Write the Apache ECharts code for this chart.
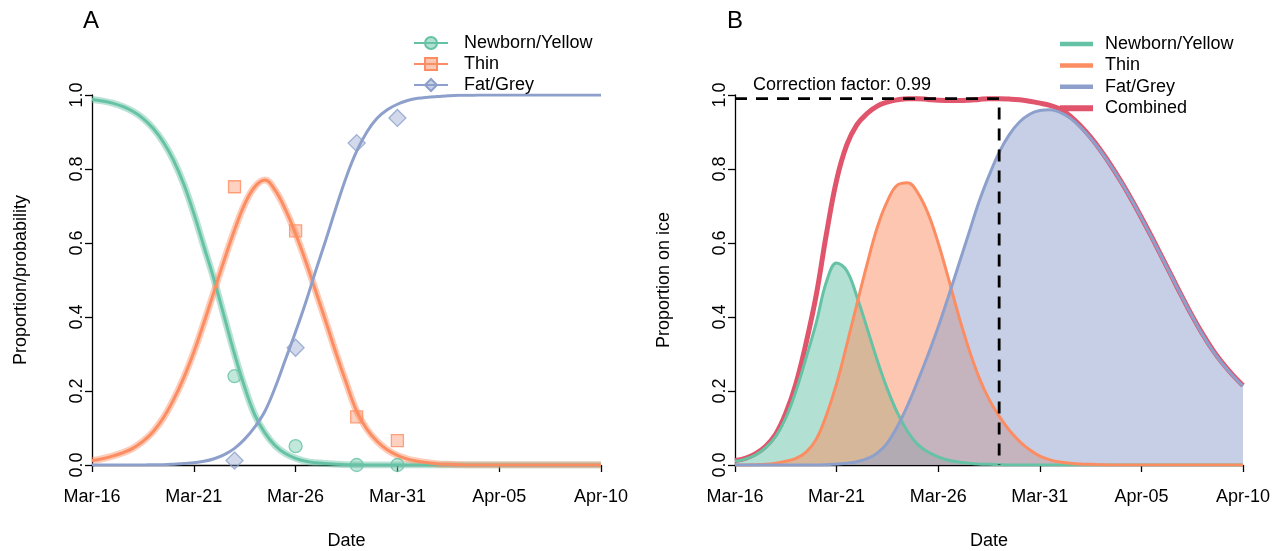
<!DOCTYPE html>
<html><head><meta charset="utf-8">
<script src="https://cdn.jsdelivr.net/npm/echarts@6/dist/echarts.min.js"></script>
<style>html,body{margin:0;padding:0;background:#fff}#c{width:1284px;height:551px}</style>
</head><body><div id="c"></div>
<script>
// ---------- data ----------
const tickLabels = ["Mar-16","Mar-21","Mar-26","Mar-31","Apr-05","Apr-10"];
const yTicks = [0, 0.2, 0.4, 0.6, 0.8, 1.0];
const groupNames = ["Newborn/Yellow","Thin","Fat/Grey"];
const combinedName = "Combined";

// days since Mar-16 (half-day steps), shared by both panels
const days = [0,0.5,1,1.5,2,2.5,3,3.5,4,4.5,
              5,5.5,6,6.5,7,7.5,8,8.5,9,9.5,
              10,10.5,11,11.5,12,12.5,13,13.5,14,14.5,
              15,15.5,16,16.5,17,17.5,18,18.5,19,19.5,
              20,20.5,21,21.5,22,22.5,23,23.5,24,24.5,
              25];

// Panel A: fitted proportions
const newbornA = [.988,.984,.978,.969,.956,.937,.91,.873,.824,.76,
                  .68,.59,.50,.40,.30,.21,.135,.086,.052,.031,
                  .018,.01,.006,.004,.002,.001,.001,0,0,0,
                  0,0,0,0,0,0,0,0,0,0,
                  0,0,0,0,0,0,0,0,0,0,
                  0];
const thinA    = [.012,.017,.024,.033,.045,.064,.09,.127,.176,.235,
                  .305,.385,.47,.555,.635,.705,.752,.77,.742,.69,
                  .625,.55,.468,.385,.30,.22,.145,.097,.064,.041,
                  .026,.016,.01,.006,.003,.002,.001,0,0,0,
                  0,0,0,0,0,0,0,0,0,0,
                  0];
const fatA     = [0,0,0,0,0,0,.001,.001,.002,.004,
                  .006,.01,.017,.028,.045,.07,.103,.146,.21,.285,
                  .36,.44,.527,.611,.698,.78,.848,.9,.937,.96,
                  .975,.985,.991,.994,.996,.998,.999,.999,1,1,
                  1,1,1,1,1,1,1,1,1,1,
                  1];

// Panel A: observed proportions
const obsDays    = [7,10,13,15];
const newbornObs = [0.24,0.051,0,0];
const thinObs    = [0.752,0.633,0.13,0.066];
const fatObs     = [0.012,0.317,0.87,0.938];

// Panel B: proportion on ice
const newbornB  = [.01,.016,.027,.046,.077,.127,.20,.29,.385,.495,
                   .546,.525,.455,.37,.283,.205,.14,.09,.055,.035,
                   .022,.013,.008,.005,.003,.002,.001,0,0,0,
                   0,0,0,0,0,0,0,0,0,0,
                   0,0,0,0,0,0,0,0,0,0,
                   0];
const thinB     = [0,0,.001,.002,.005,.01,.018,.035,.07,.135,
                   .22,.325,.435,.543,.642,.713,.757,.763,.735,.68,
                   .60,.505,.405,.315,.238,.178,.132,.094,.064,.041,
                   .024,.014,.008,.005,.003,.002,.001,0,0,0,
                   0,0,0,0,0,0,0,0,0,0,
                   0];
const fatB      = [0,0,0,0,0,0,0,0,0,.001,
                   .003,.005,.009,.017,.032,.06,.105,.162,.228,.298,
                   .373,.455,.54,.625,.71,.782,.845,.893,.927,.948,
                   .958,.96,.953,.937,.913,.883,.848,.808,.765,.718,
                   .668,.616,.562,.508,.454,.402,.353,.31,.273,.241,
                   .213];
const combinedB = [.012,.018,.03,.05,.083,.14,.22,.33,.46,.625,
                   .77,.865,.92,.95,.97,.981,.987,.99,.99,.988,
                   .986,.985,.985,.986,.988,.99,.99,.989,.987,.983,
                   .978,.972,.962,.943,.917,.886,.85,.81,.766,.719,
                   .669,.617,.563,.509,.455,.403,.355,.312,.275,.243,
                   .215];
const correctionFactor = 0.99;
const correctionDay = 13;

// ---------- style ----------
const FONT = 'Liberation Sans, Arial, sans-serif';
const COL = ['#66c2a5', '#fc8d62', '#8da0cb'];
const FILL = ['rgba(102,194,165,0.5)', 'rgba(252,141,98,0.5)', 'rgba(141,160,203,0.5)'];
const BAND = ['rgba(102,194,165,0.45)', 'rgba(252,141,98,0.45)', 'rgba(141,160,203,0.45)'];
const RED = '#e0546c';
const SYM = ['circle', 'rect', 'diamond'];
const SYMSIZE = [13, 12, 17];
const SMOOTH = 0.4;

const zip = (xs, ys) => xs.map((x, i) => [x, ys[i]]);

function xAxis(gi) {
  return {
    type: 'value', gridIndex: gi, min: 0, max: 25, interval: 5,
    axisLine: {show: true, onZero: false, lineStyle: {color: '#000', width: 1.3}},
    axisTick: {show: true, length: 7, lineStyle: {color: '#000', width: 1.3}},
    axisLabel: {color: '#000', fontSize: 18, fontFamily: FONT, margin: 23,
      formatter: v => tickLabels[Math.round(v / 5)]},
    splitLine: {show: false},
    name: 'Date', nameLocation: 'middle', nameGap: 67,
    nameTextStyle: {color: '#000', fontSize: 18, fontFamily: FONT}
  };
}
function yAxis(gi, name) {
  return {
    type: 'value', gridIndex: gi, min: yTicks[0], max: yTicks[yTicks.length - 1], interval: 0.2,
    axisLine: {show: true, onZero: false, lineStyle: {color: '#000', width: 1.3}},
    axisTick: {show: true, length: 7, lineStyle: {color: '#000', width: 1.3}},
    axisLabel: {color: '#000', fontSize: 18, fontFamily: FONT, margin: 6, rotate: 90,
      formatter: v => v.toFixed(1)},
    splitLine: {show: false},
    name: name, nameLocation: 'middle', nameGap: 62,
    nameTextStyle: {color: '#000', fontSize: 18, fontFamily: FONT}
  };
}

const fitsA = [newbornA, thinA, fatA];
const obsA = [newbornObs, thinObs, fatObs];
const fitsB = [newbornB, thinB, fatB];

const series = [];
// Panel A: named fitted lines first (legend uses them)
groupNames.forEach((n, i) => {
  series.push({
    name: n, type: 'line', xAxisIndex: 0, yAxisIndex: 0,
    data: zip(days, fitsA[i]), smooth: SMOOTH, showSymbol: false,
    symbol: SYM[i], symbolSize: SYMSIZE[i],
    itemStyle: {color: FILL[i], borderColor: COL[i], borderWidth: 1.3},
    lineStyle: {color: COL[i], width: 3}, z: 3
  });
});
// confidence band (drawn below)
groupNames.forEach((n, i) => {
  if (i === 2) return;
  series.push({
    name: n + ' band', type: 'line', xAxisIndex: 0, yAxisIndex: 0,
    data: zip(days, fitsA[i]), smooth: SMOOTH, showSymbol: false, silent: true,
    lineStyle: {color: BAND[i], width: 7}, z: 2
  });
});
// observed points
groupNames.forEach((n, i) => {
  series.push({
    name: n + ' obs', type: 'scatter', xAxisIndex: 0, yAxisIndex: 0,
    data: zip(obsDays, obsA[i]), symbol: SYM[i], symbolSize: SYMSIZE[i],
    itemStyle: {color: FILL[i], borderColor: COL[i], borderWidth: 1.3}, z: 4
  });
});
// Panel B
series.push({
  name: combinedName, type: 'line', xAxisIndex: 1, yAxisIndex: 1,
  data: zip(days, combinedB), smooth: SMOOTH, showSymbol: false, symbol: 'circle',
  lineStyle: {color: RED, width: 5, type: 'solid'}, itemStyle: {color: RED}, z: 2
});
groupNames.forEach((n, i) => {
  series.push({
    name: n, type: 'line', xAxisIndex: 1, yAxisIndex: 1,
    data: zip(days, fitsB[i]), smooth: SMOOTH, showSymbol: false, symbol: 'circle',
    lineStyle: {color: COL[i], width: 3}, itemStyle: {color: COL[i]},
    areaStyle: {color: FILL[i], opacity: 1}, z: 2
  });
});
series.push({
  name: 'correction', type: 'line', xAxisIndex: 1, yAxisIndex: 1,
  data: [[0, correctionFactor], [correctionDay, correctionFactor], [correctionDay, 0]],
  showSymbol: false, symbol: 'none', silent: true,
  lineStyle: {color: '#000', width: 2.8, type: [12, 9]}, z: 6
});

const legendText = {fontSize: 18, fontFamily: FONT, color: '#000'};
const option = {
  animation: false,
  backgroundColor: '#fff',
  grid: [
    {left: 92, right: 683, top: 95, bottom: 86, containLabel: false, outerBoundsMode: 'none'},
    {left: 735, right: 41, top: 95, bottom: 86, containLabel: false, outerBoundsMode: 'none'}
  ],
  xAxis: [xAxis(0), xAxis(1)],
  yAxis: [yAxis(0, 'Proportion/probability'), yAxis(1, 'Proportion on ice')],
  legend: [
    {
      data: groupNames, orient: 'vertical', left: 413, top: 34, padding: 0,
      itemWidth: 34, itemHeight: 15, itemGap: 3,
      textStyle: Object.assign({padding: [0, 0, 0, 11]}, legendText),
      selectedMode: false
    },
    {
      data: groupNames.map(n => ({name: n})).concat([{name: combinedName, lineStyle: {width: 6, type: 'solid', color: RED}}]),
      orient: 'vertical', left: 1057, top: 35, padding: 0,
      itemWidth: 33, itemHeight: 15, itemGap: 3.4,
      itemStyle: {color: 'rgba(0,0,0,0)', borderColor: 'rgba(0,0,0,0)', borderWidth: 0},
      lineStyle: {width: 4.5, type: 'solid'},
      textStyle: Object.assign({padding: [0, 0, 0, 7]}, legendText),
      selectedMode: false
    }
  ],
  graphic: [
    {type: 'text', left: 83, top: 9, style: {text: 'A', fontSize: 24, fontFamily: FONT, fill: '#000'}},
    {type: 'text', left: 727, top: 9, style: {text: 'B', fontSize: 24, fontFamily: FONT, fill: '#000'}},
    {type: 'text', left: 753, top: 76, z: 10,
      style: {text: 'Correction factor: ' + correctionFactor.toFixed(2), fontSize: 18, fontFamily: FONT, fill: '#000'}}
  ],
  series: series
};
const chart = echarts.init(document.getElementById('c'), null, {renderer: 'canvas'});
chart.setOption(option);
</script>
</body></html>
